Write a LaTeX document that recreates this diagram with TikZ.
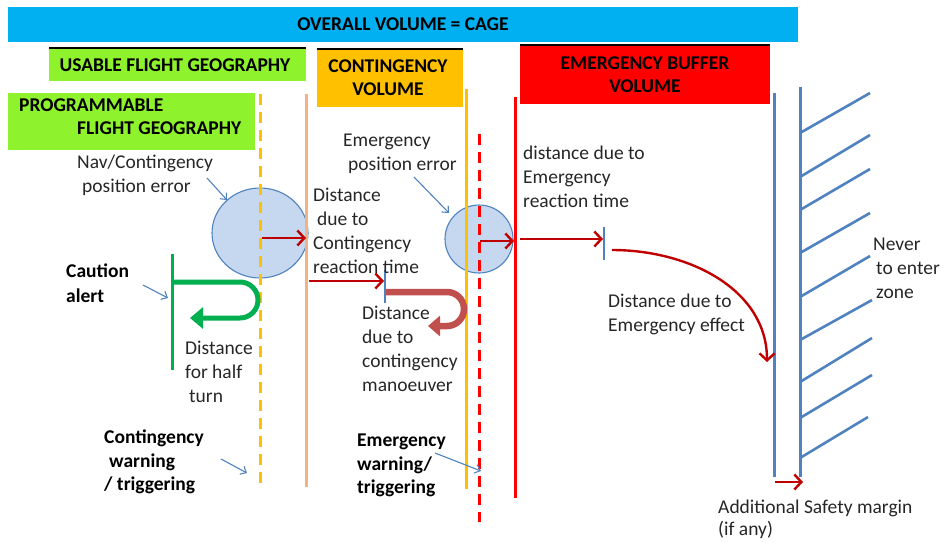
\documentclass[tikz,border=0pt]{standalone}
\usepackage{fontspec}
\setmainfont{Carlito}
\usetikzlibrary{arrows.meta,shapes.geometric}
\definecolor{cCage}{HTML}{00B0F0}
\definecolor{cLime}{HTML}{8EF22C}
\definecolor{cGold}{HTML}{FFC000}
\definecolor{cRed}{HTML}{FF0000}
\definecolor{cDark}{HTML}{C00000}
\definecolor{cBlue}{HTML}{5082C0}
\definecolor{cFillB}{HTML}{C6D8EF}
\definecolor{cPeach}{HTML}{F4B183}
\definecolor{cGreen}{HTML}{00B050}
\definecolor{cUred}{HTML}{C0504D}
\definecolor{cTxt}{HTML}{262626}
\begin{document}
\begin{tikzpicture}[x=1pt,y=-1pt,
  reg/.style={anchor=north west, inner sep=0pt, align=left, text=cTxt, font=\fontsize{19.5}{24}\selectfont},
  bld/.style={anchor=north west, inner sep=0pt, align=left, font=\fontsize{19.5}{23.5}\selectfont\bfseries},
  boxlbl/.style={inner sep=0pt, align=center, font=\fontsize{19.5}{23}\selectfont\bfseries},
  colbox/.style={anchor=north west, inner sep=0pt},
  topline/.style={draw=black, line width=1.3pt},
  note/.style={draw=cBlue, line width=1.1pt, -{Straight Barb[length=5pt,width=9pt]}},
  rarr/.style={draw=cDark, line width=2.4pt, -{Straight Barb[length=7pt,width=15pt]}},
  vline/.style={line width=3pt},
  dsh/.style={line width=3pt, dash pattern=on 11pt off 7pt},
  tick/.style={draw=cBlue, line width=2.2pt},
  hatch/.style={draw=cBlue, line width=2.6pt},
  blob/.style={ellipse, draw=cBlue, line width=1.1pt, fill=cFillB, inner sep=0pt}]
\useasboundingbox (0,0) rectangle (944,542);

% header boxes
\node[colbox, fill=cCage, minimum width=790pt, minimum height=35pt] (cage) at (8,7) {};
\node[boxlbl] (cagetxt) at (403,24) {OVERALL VOLUME = CAGE};

\node[colbox, fill=cLime, minimum width=257pt, minimum height=33pt] (ufg) at (49,48) {};
\draw[topline] (ufg.north west) -- (ufg.north east);
\node[boxlbl] (ufgtxt) at (175,65) {USABLE FLIGHT GEOGRAPHY};

\node[colbox, fill=cGold, minimum width=146pt, minimum height=58pt] (cv) at (317,49) {};
\draw[topline] (cv.north west) -- (cv.north east);
\node[boxlbl] (cvtxt) at (388,78) {CONTINGENCY\\VOLUME};

\node[colbox, fill=cRed, minimum width=250pt, minimum height=59pt] (ebv) at (520,45) {};
\draw[topline] (ebv.north west) -- (ebv.north east);
\node[boxlbl] (ebvtxt) at (645,75) {EMERGENCY BUFFER\\VOLUME};

\node[colbox, fill=cLime, minimum width=247pt, minimum height=57pt] (pfg) at (8,93) {};
\node[boxlbl, anchor=north west, align=left] (pfgtxt) at (19,99) {PROGRAMMABLE\\\hspace{58pt}FLIGHT GEOGRAPHY};

% position error blobs
\node[blob, minimum width=96pt, minimum height=90pt] (c1) at (260,233) {};
\node[blob, minimum width=68pt, minimum height=68pt] (c2) at (479,239) {};

% vertical boundaries
\draw[dsh, draw=cGold] (260,94) -- (260,484);
\draw[vline, draw=cPeach] (306,94) -- (306,487);
\draw[vline, draw=cGold] (466,89) -- (466,489);
\draw[dsh, draw=cRed] (479,134) -- (479,522);
\draw[vline, draw=cRed] (515,97) -- (515,498);
\draw[vline, draw=cBlue] (774,93) -- (774,477);
\draw[vline, draw=cBlue] (800,87) -- (800,477);

% hatches
\foreach \ya/\yb/\xb in {133/93/870, 177/135/870, 210/169/870, 253/213/870, 297/256/870, 340/300/872, 382/338/872, 418/375/872, 458/417/868}
  \draw[hatch] (800,\ya) -- (\xb,\yb);

% green half turn
\draw[draw=cGreen, line width=3pt] (172,254) -- (172,370);
\draw[draw=cGreen, line width=5pt, -{Triangle[length=13pt,width=21pt]}]
  (172,282) -- (240,282) arc[start angle=-90, end angle=90, radius=18] -- (190,318);

% contingency manoeuvre U-turn
\draw[draw=cUred, line width=6.5pt, -{Triangle[length=12pt,width=20pt]}]
  (386,292) -- (447,292) arc[start angle=-90, end angle=90, radius=17] -- (428,326);

% ticks
\coordinate (t1a) at (385,270); \coordinate (t1b) at (385,303);
\draw[tick] (t1a) -- (t1b);
\coordinate (t2a) at (604,227); \coordinate (t2b) at (604,260);
\draw[tick] (t2a) -- (t2b);

% red distance arrows
\coordinate (r1a) at (262,238); \coordinate (r1b) at (306,238);
\draw[rarr] (r1a) -- (r1b);
\coordinate (r2a) at (309,281); \coordinate (r2b) at (384,281);
\draw[rarr] (r2a) -- (r2b);
\coordinate (r3a) at (480,241); \coordinate (r3b) at (514,241);
\draw[rarr] (r3a) -- (r3b);
\coordinate (r4a) at (520,239); \coordinate (r4b) at (603,239);
\draw[rarr] (r4a) -- (r4b);
\coordinate (r5a) at (612,250); \coordinate (r5b) at (767,362);
\draw[rarr] (r5a) .. controls (690,250) and (767,290) .. (r5b);
\coordinate (r6a) at (775,482); \coordinate (r6b) at (803,482);
\draw[rarr] (r6a) -- (r6b);

% texts
\node[reg] (navtxt) at (77,151) {\strut Nav/Contingency\\\hspace{5pt}position error};
\node[reg] (emtxt) at (343,129) {\strut Emergency\\\hspace{5pt}position error};
\node[reg] (dctxt) at (313,184) {\strut Distance\\\hspace{4pt}due to\\Contingency\\reaction time};
\node[reg] (dcmtxt) at (362,302) {\strut Distance\\due to\\contingency\\manoeuver};
\node[reg] (dhttxt) at (185,337) {\strut Distance\\for half\\\hspace{4pt}turn};
\node[reg] (dertxt) at (523,142) {\strut distance due to\\Emergency\\reaction time};
\node[reg] (deetxt) at (608,290) {\strut Distance due to\\Emergency effect};
\node[reg] (nevtxt) at (873,233) {\strut Never\\\hspace{3pt}to enter\\\hspace{3pt}zone};
\node[reg, font=\fontsize{19.5}{22}\selectfont] (addtxt) at (718,498) {\strut Additional Safety margin\\(if any)};

\node[bld, font=\fontsize{19.5}{25}\selectfont\bfseries] (caution) at (66,260) {\strut Caution\\alert};
\node[bld] (cwtxt) at (104,427) {\strut Contingency\\\hspace{5pt}warning\\/ triggering};
\node[bld] (ewtxt) at (357,430) {\strut Emergency\\warning/\\triggering};

% annotation arrows
\coordinate (n1a) at (207,178); \coordinate (n1b) at (227,200);
\draw[note] (n1a) -- (n1b);
\coordinate (n2a) at (414,177); \coordinate (n2b) at (449,213);
\draw[note] (n2a) -- (n2b);
\coordinate (n3a) at (143,285); \coordinate (n3b) at (168,298);
\draw[note] (n3a) -- (n3b);
\coordinate (n4a) at (221,459); \coordinate (n4b) at (247,473);
\draw[note] (n4a) -- (n4b);
\coordinate (n5a) at (435,453); \coordinate (n5b) at (481,471);
\draw[note] (n5a) -- (n5b);
\end{tikzpicture}
\end{document}
